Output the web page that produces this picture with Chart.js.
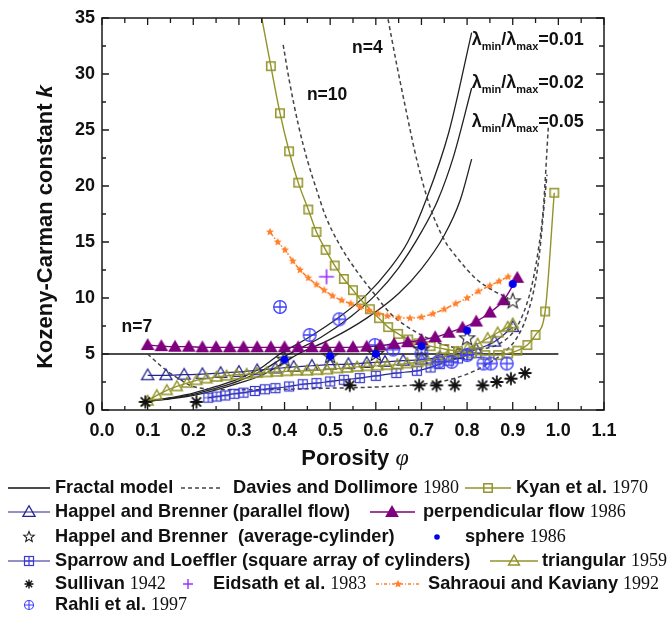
<!DOCTYPE html>
<html><head><meta charset="utf-8">
<script src="https://cdn.jsdelivr.net/npm/chart.js@4/dist/chart.umd.min.js"></script>
<style>html,body{margin:0;padding:0;background:#fff;}canvas{display:block;}</style>
</head><body>
<canvas id="c" width="670" height="617"></canvas>
<script>
// ---------- tick labels ----------
const xTickValues = [0,0.1,0.2,0.3,0.4,0.5,0.6,0.7,0.8,0.9,1.0,1.1];
const yTickValues = [0,5,10,15,20,25,30,35];

// ---------- Fractal model ----------
const fractalFlatX = [0, 1.0];
const fractalFlatK = [5, 5];
const fractalA_X = [0.095,0.15,0.2,0.25,0.3,0.35,0.39,0.45,0.52,0.58,0.63,0.67,0.71,0.76,0.81];
const fractalA_K = [0.75,1.1,1.5,2.1,2.8,3.8,5.0,6.4,8.3,10.3,12.6,15.0,18.75,24.8,33.7];
const fractalB_X = [0.095,0.15,0.2,0.25,0.3,0.35,0.41,0.48,0.547,0.6,0.65,0.7,0.736,0.77,0.81];
const fractalB_K = [0.75,1.05,1.4,1.95,2.6,3.5,5.0,6.5,8.4,10.3,12.7,15.9,18.75,22.6,28.75];
const fractalC_X = [0.095,0.15,0.2,0.25,0.3,0.35,0.43,0.5,0.58,0.65,0.7,0.75,0.785,0.81];
const fractalC_K = [0.75,1.0,1.3,1.8,2.4,3.1,5.0,6.3,8.2,10.4,12.6,15.6,18.75,22.4];
const fractalRatios = ['0.01','0.02','0.05'];

// ---------- Davies and Dollimore 1980 ----------
const daviesN4_X = [0.624,0.645,0.665,0.69,0.72,0.75,0.78,0.82,0.86,0.89];
const daviesN4_K = [35.5,31,27,22.3,18,15.2,13.5,11.7,10.6,10.0];
const daviesN7_X = [0.1,0.13,0.16,0.2,0.25,0.3,0.4,0.5,0.6,0.7,0.75,0.8,0.84,0.88,0.91,0.93,0.95,0.96,0.967,0.975];
const daviesN7_K = [5.0,3.9,3.0,2.1,1.85,1.8,1.85,1.95,2.05,2.3,2.6,3.2,4.0,5.1,6.5,8.3,11.5,14.5,17.5,21];
const daviesN10_X = [0.397,0.41,0.43,0.45,0.47,0.49,0.52,0.56,0.6,0.63,0.67,0.72,0.76,0.8,0.84,0.87,0.9,0.92,0.94,0.955,0.967,0.978];
const daviesN10_K = [32.6,29.5,25.5,22.3,19.7,17.3,14.8,12.3,10.2,8.7,7.4,6.3,5.7,5.4,5.5,5.9,6.9,8.3,10.8,14,18,25.3];

// ---------- Kyan et al. 1970 ----------
const kyanX = [0.345,0.37,0.39,0.41,0.43,0.452,0.47,0.49,0.51,0.53,0.55,0.568,0.587,0.607,0.627,0.649,0.671,0.693,0.72,0.75,0.78,0.81,0.84,0.868,0.89,0.91,0.932,0.95,0.971,0.991];
const kyanK = [36.1,30.7,26.5,23.1,20.3,17.9,15.9,14.3,12.9,11.7,10.7,9.8,9.0,8.2,7.4,6.8,6.3,5.95,5.7,5.45,5.25,5.05,4.9,4.9,5.05,5.3,5.8,6.7,8.8,19.4];

// ---------- Happel and Brenner (parallel flow) ----------
const happelParX = [0.1,0.14,0.18,0.22,0.26,0.3,0.34,0.38,0.42,0.46,0.5,0.54,0.58,0.62,0.66,0.7,0.74,0.78,0.82,0.86,0.9];
const happelParK = [3.1,3.1,3.15,3.2,3.3,3.4,3.55,3.7,3.85,3.95,4.05,4.1,4.2,4.3,4.4,4.5,4.7,5.0,5.4,6.1,7.4];

// ---------- perpendicular flow 1986 ----------
const perpX = [0.1,0.13,0.16,0.19,0.22,0.25,0.28,0.31,0.34,0.37,0.4,0.43,0.46,0.49,0.52,0.55,0.58,0.61,0.64,0.67,0.7,0.73,0.76,0.79,0.82,0.85,0.88,0.91];
const perpK = [5.8,5.7,5.65,5.65,5.6,5.6,5.6,5.6,5.6,5.6,5.6,5.6,5.6,5.6,5.6,5.6,5.65,5.75,5.9,6.05,6.25,6.5,6.9,7.35,7.9,8.7,9.8,11.8];

// ---------- Happel and Brenner (average-cylinder) ----------
const happelAvgX = [0.4,0.5,0.6,0.7,0.8,0.9];
const happelAvgK = [4.5,4.8,5.0,5.4,6.4,9.7];

// ---------- sphere 1986 ----------
const sphereX = [0.4,0.5,0.6,0.7,0.8,0.9];
const sphereK = [4.5,4.8,5.0,5.7,7.1,11.25];

// ---------- Sparrow and Loeffler ----------
const sparrowX = [0.233,0.251,0.27,0.29,0.31,0.335,0.357,0.38,0.41,0.44,0.47,0.5,0.53,0.565,0.6,0.645,0.69,0.72,0.74,0.76,0.78,0.8,0.82];
const sparrowK = [1.1,1.2,1.3,1.45,1.55,1.7,1.85,1.95,2.1,2.3,2.4,2.55,2.7,2.85,3.05,3.3,3.5,3.8,4.1,4.4,4.6,4.9,5.1];

// ---------- triangular 1959 ----------
const triX = [0.1,0.12,0.142,0.164,0.186,0.207,0.229,0.251,0.273,0.295,0.317,0.339,0.361,0.383,0.405,0.427,0.449,0.471,0.493,0.515,0.537,0.559,0.581,0.603,0.625,0.647,0.669,0.691,0.713,0.735,0.757,0.779,0.801,0.823,0.845,0.867,0.889,0.9];
const triK = [0.8,1.3,1.75,2.1,2.4,2.65,2.8,2.95,3.05,3.15,3.2,3.3,3.35,3.4,3.45,3.5,3.5,3.55,3.6,3.7,3.75,3.85,3.9,3.95,4.0,4.05,4.15,4.25,4.4,4.6,4.85,5.15,5.5,5.9,6.4,6.9,7.4,7.7];

// ---------- Sullivan 1942 ----------
const sullivanX = [0.095,0.207,0.543,0.695,0.733,0.773,0.834,0.865,0.896,0.927];
const sullivanK = [0.72,0.72,2.2,2.2,2.2,2.2,2.2,2.5,2.8,3.3];

// ---------- Eidsath et al. 1983 ----------
const eidsathX = [0.492];
const eidsathK = [11.9];

// ---------- Sahraoui and Kaviany 1992 ----------
const sahraouiX = [0.368,0.385,0.401,0.418,0.434,0.452,0.47,0.487,0.505,0.525,0.545,0.565,0.585,0.605,0.625,0.65,0.675,0.7,0.725,0.75,0.775,0.8,0.825,0.85,0.87,0.89];
const sahraouiK = [15.9,15.0,14.3,13.3,12.5,11.8,11.2,10.7,10.2,9.8,9.5,9.2,8.9,8.6,8.4,8.25,8.2,8.3,8.6,9.0,9.5,10.0,10.6,11.1,11.5,11.9];

// ---------- Rahli et al. 1997 ----------
const rahliX = [0.39,0.455,0.52,0.598,0.638,0.7,0.737,0.766,0.8,0.836,0.852,0.887];
const rahliK = [9.2,6.7,8.1,5.8,5.4,5.05,4.3,4.3,4.9,4.15,4.15,4.15];

// ---------- styles ----------
const OLIVE = '#93932a', NAVY = '#25258f', PURPLE = '#7f007f', BLUE = '#0000f0',
      SPARROW = '#3a3ad2', RAHLI = '#3f3fff', VIOLET = '#9b30ff', ORANGE = '#ff7f2a',
      DASH = '#444444', BLACK = '#111111', TEXT = '#111111';
const SANS = '"Liberation Sans", Arial, Helvetica, sans-serif';
const SERIF = '"Liberation Serif", "Times New Roman", serif';

function pts(xs, ks){ return xs.map((x,i)=>({x:x, y:ks[i]})); }

function tri(g,x,y,r,col,fill,lw){
  g.beginPath(); g.moveTo(x,y-r); g.lineTo(x+r*0.98,y+r*0.72); g.lineTo(x-r*0.98,y+r*0.72); g.closePath();
  if(fill){g.fillStyle=col;g.fill();} else {g.strokeStyle=col;g.lineWidth=lw||1.4;g.stroke();}
}
function star5(g,x,y,R,r,col,lw){
  g.beginPath();
  for(let i=0;i<10;i++){const a=-Math.PI/2+i*Math.PI/5;const rr=i%2?r:R;g.lineTo(x+rr*Math.cos(a),y+rr*Math.sin(a));}
  g.closePath(); g.strokeStyle=col; g.lineWidth=lw; g.stroke();
}
function star5f(g,x,y,R,r,col){
  g.beginPath();
  for(let i=0;i<10;i++){const a=-Math.PI/2+i*Math.PI/5;const rr=i%2?r:R;g.lineTo(x+rr*Math.cos(a),y+rr*Math.sin(a));}
  g.closePath(); g.fillStyle=col; g.fill();
}
function asterisk(g,x,y,r,col,lw){
  g.strokeStyle=col; g.lineWidth=lw; g.beginPath();
  for(let i=0;i<4;i++){const a=i*Math.PI/4;g.moveTo(x-r*Math.cos(a),y-r*Math.sin(a));g.lineTo(x+r*Math.cos(a),y+r*Math.sin(a));}
  g.stroke();
}
const MK = {
  kyan:(g,x,y)=>{g.strokeStyle=OLIVE;g.lineWidth=1.5;g.strokeRect(x-4.2,y-4.2,8.4,8.4);},
  triNavy:(g,x,y)=>tri(g,x,y,6.2,NAVY,false,1.3),
  triPurple:(g,x,y)=>tri(g,x,y,7,PURPLE,true),
  triOlive:(g,x,y)=>tri(g,x,y,5.6,OLIVE,false,1.4),
  star:(g,x,y)=>star5(g,x,y,8,3.4,'#222',1.1),
  dot:(g,x,y)=>{g.fillStyle=BLUE;g.beginPath();g.arc(x,y,4,0,Math.PI*2);g.fill();},
  sqPlus:(g,x,y)=>{g.strokeStyle=SPARROW;g.lineWidth=1.2;g.strokeRect(x-4.5,y-4.5,9,9);g.beginPath();g.moveTo(x,y-4.5);g.lineTo(x,y+4.5);g.moveTo(x-4.5,y);g.lineTo(x+4.5,y);g.stroke();},
  aster:(g,x,y)=>asterisk(g,x,y,6.5,'#111',1.8),
  plus:(g,x,y)=>{g.strokeStyle=VIOLET;g.lineWidth=1.6;g.beginPath();g.moveTo(x-7.5,y);g.lineTo(x+7.5,y);g.moveTo(x,y-7.5);g.lineTo(x,y+7.5);g.stroke();},
  circPlus:(g,x,y)=>{g.strokeStyle=RAHLI;g.lineWidth=1.3;g.beginPath();g.arc(x,y,6.3,0,Math.PI*2);g.stroke();g.beginPath();g.moveTo(x-6.3,y);g.lineTo(x+6.3,y);g.moveTo(x,y-6.3);g.lineTo(x,y+6.3);g.stroke();},
  small:(g,x,y)=>star5f(g,x,y,4.2,1.9,ORANGE)
};
function markerCanvas(fn){const c=document.createElement('canvas');c.width=22;c.height=22;fn(c.getContext('2d'),11,11);return c;}
const IMG = {}; for(const k in MK) IMG[k]=markerCanvas(MK[k]);

function lineDS(xs,ks,o){
  return Object.assign({data:pts(xs,ks),borderColor:BLACK,borderWidth:1.3,pointRadius:0,fill:false,
    cubicInterpolationMode:'monotone',showLine:true},o);
}
function markDS(xs,ks,img,o){
  return Object.assign({data:pts(xs,ks),showLine:false,pointStyle:img,pointRadius:5,borderColor:'rgba(0,0,0,0)',backgroundColor:'rgba(0,0,0,0)'},o);
}

const datasets = [
  markDS(eidsathX,eidsathK,IMG.plus),
  markDS(sphereX,sphereK,IMG.dot),
  markDS(happelAvgX,happelAvgK,IMG.star),
  markDS(sullivanX,sullivanK,IMG.aster),
  lineDS(perpX,perpK,{borderColor:PURPLE,borderWidth:1.3,pointStyle:IMG.triPurple,pointRadius:5}),
  markDS(rahliX,rahliK,IMG.circPlus),
  lineDS(sahraouiX,sahraouiK,{borderColor:ORANGE,borderWidth:1.5,borderDash:[5,2,1.5,2],pointStyle:IMG.small,pointRadius:4}),
  lineDS(kyanX,kyanK,{borderColor:OLIVE,borderWidth:1.4,pointStyle:IMG.kyan,pointRadius:5}),
  lineDS(triX,triK,{borderColor:OLIVE,borderWidth:1.3,pointStyle:IMG.triOlive,pointRadius:5}),
  lineDS(happelParX,happelParK,{borderColor:NAVY,borderWidth:1.2,pointStyle:IMG.triNavy,pointRadius:5}),
  lineDS(sparrowX,sparrowK,{borderColor:NAVY,borderWidth:1.2,pointStyle:IMG.sqPlus,pointRadius:5}),
  lineDS(daviesN4_X,daviesN4_K,{borderColor:DASH,borderWidth:1.5,borderDash:[4,3]}),
  lineDS(daviesN7_X,daviesN7_K,{borderColor:DASH,borderWidth:1.5,borderDash:[4,3]}),
  lineDS(daviesN10_X,daviesN10_K,{borderColor:DASH,borderWidth:1.5,borderDash:[4,3]}),
  lineDS(fractalFlatX,fractalFlatK,{borderColor:BLACK,borderWidth:1.4,cubicInterpolationMode:'default',tension:0}),
  lineDS(fractalA_X,fractalA_K,{borderColor:'#222',borderWidth:1.3}),
  lineDS(fractalB_X,fractalB_K,{borderColor:'#222',borderWidth:1.3}),
  lineDS(fractalC_X,fractalC_K,{borderColor:'#222',borderWidth:1.3})
];

// ---------- plugins ----------
const framePlugin = {
  id:'frame',
  afterDraw(chart){
    const g=chart.ctx, a=chart.chartArea, xs=chart.scales.x, ys=chart.scales.y;
    g.save(); g.strokeStyle='#1a1a1a'; g.lineWidth=1.5;
    g.strokeRect(a.left,a.top,a.right-a.left,a.bottom-a.top);
    g.lineWidth=1.3; g.beginPath();
    for(let i=0;i<xTickValues.length;i++){
      const v=xTickValues[i]; const p=xs.getPixelForValue(v);
      g.moveTo(p,a.bottom); g.lineTo(p,a.bottom-8); g.moveTo(p,a.top); g.lineTo(p,a.top+7);
      if(i<xTickValues.length-1){const m=xs.getPixelForValue((v+xTickValues[i+1])/2);
        g.moveTo(m,a.bottom); g.lineTo(m,a.bottom-4); g.moveTo(m,a.top); g.lineTo(m,a.top+5);}
    }
    for(let i=0;i<yTickValues.length;i++){
      const v=yTickValues[i]; const p=ys.getPixelForValue(v);
      g.moveTo(a.left,p); g.lineTo(a.left+7,p); g.moveTo(a.right,p); g.lineTo(a.right-8,p);
      if(i<yTickValues.length-1){const m=ys.getPixelForValue((v+yTickValues[i+1])/2);
        g.moveTo(a.left,m); g.lineTo(a.left+4,m); g.moveTo(a.right,m); g.lineTo(a.right-5,m);}
    }
    g.stroke(); g.restore();
  }
};

function runs(g, parts, x, y){
  for(const p of parts){ g.font=p[1]; g.fillStyle=TEXT; g.fillText(p[0],x,y+(p[2]||0)); x+=g.measureText(p[0]).width; }
  return x;
}
function runsWidth(g, parts){ let w=0; for(const p of parts){g.font=p[1]; w+=g.measureText(p[0]).width;} return w; }

const textPlugin = {
  id:'texts',
  afterDraw(chart){
    const g=chart.ctx, xs=chart.scales.x, ys=chart.scales.y;
    g.save(); g.textBaseline='alphabetic'; g.textAlign='left';
    const Bn='bold 17.5px '+SANS, B='bold 18px '+SANS, Bs='bold 11px '+SANS;
    const nLabels=[['n=4',0.548,31.9],['n=10',0.449,27.7],['n=7',0.043,6.96]];
    for(const n of nLabels){ runs(g,[[n[0],Bn]],xs.getPixelForValue(n[1]),ys.getPixelForValue(n[2])); }
    const lamK=[32.6,28.75,25.27];
    fractalRatios.forEach((r,i)=>{
      runs(g,[['λ',B],['min',Bs,5],['/λ',B],['max',Bs,5],['='+r,B]],xs.getPixelForValue(0.81),ys.getPixelForValue(lamK[i]));
    });
    const F='bold 22px '+SANS;
    const yt=[['Kozeny-Carman constant ',F],['k','italic bold 22px '+SANS]];
    g.save(); g.translate(46,227); g.rotate(-Math.PI/2); g.textBaseline='middle';
    runs(g,yt,-runsWidth(g,yt)/2,0); g.restore();
    const xt=[['Porosity ',F],['φ','italic 24px '+SERIF]];
    g.textBaseline='middle';
    runs(g,xt,355-runsWidth(g,xt)/2,459);
    g.restore();
    drawLegend(g);
  }
};

function sampleLine(g,x0,x1,y,col,dash,lw){
  g.save(); g.strokeStyle=col; g.lineWidth=lw||1.4; g.setLineDash(dash||[]);
  g.beginPath(); g.moveTo(x0,y); g.lineTo(x1,y); g.stroke(); g.restore();
}
function mark(g,fn,x,y){ g.save(); fn(g,x,y); g.restore(); }
function drawLegend(g){
  const T='bold 18.2px '+SANS, Y='18px '+SERIF;
  g.save(); g.textBaseline='middle'; g.textAlign='left';
  let y=488;
  sampleLine(g,8,50,y,BLACK);
  runs(g,[['Fractal model',T]],55,y);
  sampleLine(g,181,221,y,DASH,[4,3]);
  runs(g,[['Davies and Dollimore ',T],['1980',Y]],233,y);
  sampleLine(g,465,511,y,OLIVE); mark(g,MK.kyan,488,y);
  runs(g,[['Kyan et al. ',T],['1970',Y]],516,y);
  y=512;
  sampleLine(g,8,50,y,NAVY,null,1.2); mark(g,MK.triNavy,29,y);
  runs(g,[['Happel and Brenner (parallel flow)',T]],55,y);
  sampleLine(g,370,415,y,PURPLE); mark(g,MK.triPurple,392,y);
  runs(g,[['perpendicular flow ',T],['1986',Y]],423,y);
  y=537;
  mark(g,(c,x,yy)=>star5(c,x,yy,5.5,2.4,'#222',1.1),29,y);
  mark(g,(c,x,yy)=>{c.fillStyle=BLUE;c.beginPath();c.arc(x,yy,2.8,0,Math.PI*2);c.fill();},437,y);
  runs(g,[['Happel and Brenner  (average-cylinder)',T]],55,y);
  runs(g,[['sphere ',T],['1986',Y]],465,y);
  y=561;
  sampleLine(g,8,50,y,NAVY,null,1.2); mark(g,MK.sqPlus,29,y);
  runs(g,[['Sparrow and Loeffler (square array of cylinders)',T]],55,y);
  sampleLine(g,490,538,y,OLIVE); mark(g,MK.triOlive,514,y);
  runs(g,[['triangular ',T],['1959',Y]],542,y);
  y=584;
  mark(g,(c,x,yy)=>asterisk(c,x,yy,4.5,'#111',1.4),29,y);
  runs(g,[['Sullivan ',T],['1942',Y]],55,y);
  mark(g,(c,x,yy)=>{c.strokeStyle=VIOLET;c.lineWidth=1.4;c.beginPath();c.moveTo(x-5,yy);c.lineTo(x+5,yy);c.moveTo(x,yy-5);c.lineTo(x,yy+5);c.stroke();},188,y);
  runs(g,[['Eidsath et al. ',T],['1983',Y]],213,y);
  sampleLine(g,376,419,y,ORANGE,[3,2,1,2],1.3); mark(g,MK.small,398,y);
  runs(g,[['Sahraoui and Kaviany ',T],['1992',Y]],428,y);
  y=605;
  mark(g,(c,x,yy)=>{c.strokeStyle=RAHLI;c.lineWidth=1.1;c.beginPath();c.arc(x,yy,4.5,0,Math.PI*2);c.stroke();
    c.beginPath();c.moveTo(x-4.5,yy);c.lineTo(x+4.5,yy);c.moveTo(x,yy-4.5);c.lineTo(x,yy+4.5);c.stroke();},29,y);
  runs(g,[['Rahli et al. ',T],['1997',Y]],55,y);
  g.restore();
}

const tickFont = {family:SANS, size:18, weight:'bold'};
new Chart(document.getElementById('c'), {
  type:'line',
  data:{datasets:datasets},
  options:{
    responsive:false, animation:false, events:[],
    layout:{padding:{top:18,right:66,left:0,bottom:0}},
    plugins:{legend:{display:false},tooltip:{enabled:false}},
    scales:{
      x:{type:'linear',min:0,max:1.1,
        afterBuildTicks:s=>{s.ticks=xTickValues.map(v=>({value:v}));},
        afterFit:s=>{s.height=207;},
        grid:{display:false,drawTicks:false,tickLength:0},border:{display:false},
        ticks:{padding:10,font:tickFont,color:TEXT,maxRotation:0,autoSkip:false,callback:v=>Number(v).toFixed(1)}},
      y:{type:'linear',min:0,max:35,
        afterBuildTicks:s=>{s.ticks=yTickValues.map(v=>({value:v}));},
        afterFit:s=>{s.width=102;},
        grid:{display:false,drawTicks:false,tickLength:0},border:{display:false},
        ticks:{padding:7,font:tickFont,color:TEXT,autoSkip:false,callback:v=>String(v)}}
    }
  },
  plugins:[framePlugin,textPlugin]
});
</script>
</body></html>
